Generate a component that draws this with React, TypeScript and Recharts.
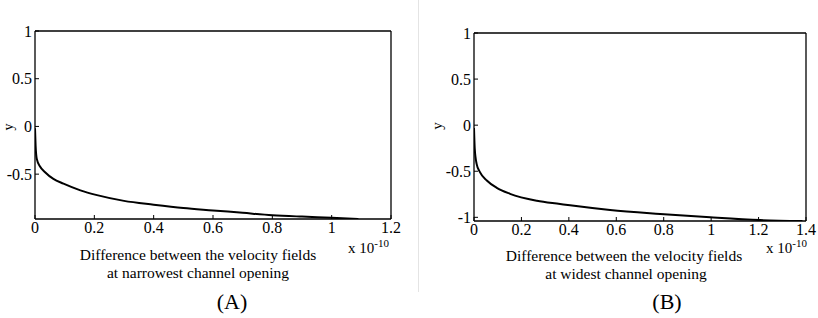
import { type CSSProperties, type FunctionComponent } from "react";
import { Line, LineChart, XAxis, YAxis } from "recharts";

// x values are in units of 1e-10
const narrowX = [0, 0.002, 0.006, 0.017, 0.034, 0.062, 0.096, 0.153, 0.209, 0.3, 0.4, 0.5, 0.6, 0.7, 0.8, 0.9, 1.0, 1.09];
const narrowY = [-0.02, -0.2, -0.34, -0.42, -0.48, -0.55, -0.6, -0.67, -0.72, -0.78, -0.82, -0.855, -0.88, -0.905, -0.93, -0.945, -0.957, -0.97];

const wideX = [0, 0.003, 0.011, 0.025, 0.054, 0.096, 0.152, 0.265, 0.363, 0.405, 0.574, 0.785, 0.996, 1.207, 1.385];
const wideY = [-0.03, -0.25, -0.42, -0.51, -0.6, -0.68, -0.745, -0.82, -0.855, -0.87, -0.92, -0.963, -1.0, -1.03, -1.04];

const narrowXTicks = [0, 0.2, 0.4, 0.6, 0.8, 1, 1.2];
const wideXTicks = [0, 0.2, 0.4, 0.6, 0.8, 1, 1.2, 1.4];
const narrowYTicks = [-0.5, 0, 0.5, 1];
const wideYTicks = [-1, -0.5, 0, 0.5, 1];

const captionLine1 = "Difference between the velocity fields";
const narrowCaption = "at narrowest channel opening";
const wideCaption = "at widest channel opening";

const serif = '"Liberation Serif", "Times New Roman", serif';
const tickStyle = { fill: "#000", fontSize: 16, fontFamily: serif };
const axisLine = { stroke: "#000", strokeWidth: 1.3 };
const tickLine = { stroke: "#000", strokeWidth: 1 };

const fmt = (v: number) => String(Math.round(v * 10) / 10);

type PanelProps = {
  xs: number[];
  ys: number[];
  xTicks: number[];
  yTicks: number[];
  xMax: number;
  yMin: number;
  width: number;
  yAxisWidth: number;
  margin: { top: number; right: number; bottom: number; left: number };
};

// one boxed panel: labelled bottom/left axes, bare top/right axes, all ticks pointing inward
const Panel: FunctionComponent<PanelProps> = ({ xs, ys, xTicks, yTicks, xMax, yMin, width, yAxisWidth, margin }) =>
{
  const data = xs.map((x, i) => ({ x, y: ys[i] }));
  return (
    <LineChart width={width} height={318} data={data} margin={margin}>
      <XAxis
        xAxisId="b"
        dataKey="x"
        type="number"
        domain={[0, xMax]}
        allowDataOverflow
        ticks={xTicks}
        tickFormatter={fmt}
        height={30}
        tickSize={-4}
        tickMargin={7}
        tick={tickStyle}
        axisLine={axisLine}
        tickLine={tickLine}
        interval={0}
      />
      <XAxis
        xAxisId="t"
        orientation="top"
        dataKey="x"
        type="number"
        domain={[0, xMax]}
        allowDataOverflow
        ticks={xTicks}
        height={1}
        tickSize={-4}
        tick={false}
        axisLine={axisLine}
        tickLine={tickLine}
        interval={0}
      />
      <YAxis
        yAxisId="l"
        type="number"
        domain={[yMin, 1]}
        allowDataOverflow
        ticks={yTicks}
        tickFormatter={fmt}
        width={yAxisWidth}
        tickSize={-4}
        tickMargin={7}
        tick={tickStyle}
        axisLine={axisLine}
        tickLine={tickLine}
        interval={0}
      />
      <YAxis
        yAxisId="r"
        orientation="right"
        type="number"
        domain={[yMin, 1]}
        allowDataOverflow
        ticks={yTicks}
        width={1}
        tickSize={-4}
        tick={false}
        axisLine={axisLine}
        tickLine={tickLine}
        interval={0}
      />
      <Line
        xAxisId="b"
        yAxisId="l"
        dataKey="y"
        type="monotone"
        stroke="#000"
        strokeWidth={2}
        dot={false}
        isAnimationActive={false}
      />
      <Line
        xAxisId="t"
        yAxisId="r"
        dataKey="y"
        type="monotone"
        stroke="none"
        dot={false}
        isAnimationActive={false}
      />
    </LineChart>
  );
};

const text = (x: number, y: number, size: number, extra: CSSProperties = {}): CSSProperties => ({
  position: "absolute",
  left: x,
  top: y,
  transform: "translate(-50%, -50%)",
  fontFamily: serif,
  fontSize: size,
  lineHeight: 1,
  whiteSpace: "nowrap",
  color: "#000",
  ...extra,
});

const Exponent: FunctionComponent<{ left: number }> = ({ left }) => (
  <div style={{ ...text(left, 247, 15), transform: "translate(0, -50%)" }}>
    x 10<sup style={{ fontSize: 11, verticalAlign: 6 }}>-10</sup>
  </div>
);

export default function App()
{
  return (
    <div style={{ position: "absolute", left: 0, top: 0, width: 818, height: 318, background: "#fff", overflow: "hidden" }}>
      <div style={{ position: "absolute", left: 0, top: 0 }}>
        <Panel
          xs={narrowX}
          ys={narrowY}
          xTicks={narrowXTicks}
          yTicks={narrowYTicks}
          xMax={1.2}
          yMin={-0.97}
          width={410}
          yAxisWidth={35}
          margin={{ top: 30, right: 18, bottom: 69, left: 0 }}
        />
      </div>
      <div style={{ position: "absolute", left: 410, top: 0 }}>
        <Panel
          xs={wideX}
          ys={wideY}
          xTicks={wideXTicks}
          yTicks={wideYTicks}
          xMax={1.4}
          yMin={-1.04}
          width={408}
          yAxisWidth={64}
          margin={{ top: 32, right: 11, bottom: 67, left: 0 }}
        />
      </div>

      <div style={{ position: "absolute", left: 418, top: 0, width: 1, height: 292, background: "#e4e4e4" }} />

      <div style={text(9, 127, 14, { transform: "translate(-50%, -50%) rotate(-90deg)" })}>y</div>
      <div style={text(437, 126, 15, { transform: "translate(-50%, -50%) rotate(-90deg)" })}>y</div>

      <div style={text(198, 255, 15.5)}>{captionLine1}</div>
      <div style={text(198, 273, 15.5)}>{narrowCaption}</div>
      <Exponent left={348} />
      <div style={text(232, 302, 22)}>(A)</div>

      <div style={text(624, 256, 15.5)}>{captionLine1}</div>
      <div style={text(626, 274, 15.5)}>{wideCaption}</div>
      <Exponent left={766} />
      <div style={text(667, 302, 22)}>(B)</div>
    </div>
  );
}
